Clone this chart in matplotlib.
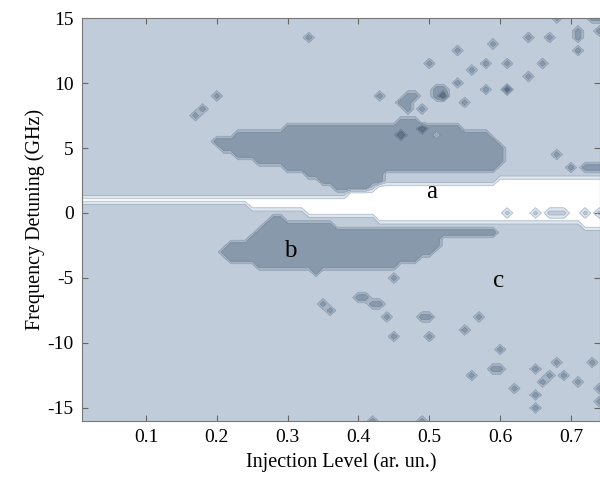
import numpy as np
import matplotlib
matplotlib.use("Agg")
import matplotlib.pyplot as plt
from matplotlib.colors import ListedColormap, BoundaryNorm

# grid of the map (injection level x detuning)
x_grid = np.round(np.arange(0.01, 0.755, 0.01), 2)
y_grid = np.arange(-16.0, 15.25, 0.5)

# locking band "a" (value 0): x from, x to, lowest row, highest row
lock_x0 = [0.01, 0.25, 0.33, 0.39, 0.43, 0.60, 0.72]
lock_x1 = [0.24, 0.32, 0.38, 0.42, 0.59, 0.71, 0.75]
lock_lo = [1.0, 0.5, 0.0, 0.0, -0.5, -0.5, -1.0]
lock_hi = [1.0, 1.0, 1.0, 1.5, 2.0, 2.5, 2.5]

# upper region "b" (value 2)
up_x0 = [0.20, 0.21, 0.23, 0.26, 0.30, 0.33, 0.35, 0.37, 0.42, 0.44, 0.46, 0.49, 0.55, 0.59, 0.60]
up_x1 = [0.20, 0.22, 0.25, 0.29, 0.32, 0.34, 0.36, 0.41, 0.43, 0.45, 0.48, 0.54, 0.58, 0.59, 0.60]
up_lo = [5.5, 5.0, 4.5, 4.0, 3.5, 3.0, 2.5, 2.0, 2.5, 3.5, 3.5, 3.5, 3.5, 3.5, 4.0]
up_hi = [5.5, 5.5, 6.0, 6.0, 6.5, 6.5, 6.5, 6.5, 6.5, 6.5, 7.0, 6.5, 6.0, 5.5, 5.0]

# lower region "b" (value 2)
low_x0 = [0.21, 0.22, 0.25, 0.26, 0.27, 0.28, 0.30, 0.34, 0.35, 0.37, 0.46, 0.49, 0.51, 0.52]
low_x1 = [0.21, 0.24, 0.25, 0.26, 0.27, 0.29, 0.33, 0.34, 0.36, 0.45, 0.48, 0.50, 0.51, 0.59]
low_lo = [-3.0, -3.5, -3.5, -4.0, -4.0, -4.0, -4.0, -4.5, -4.0, -4.0, -3.5, -3.0, -2.5, -1.5]
low_hi = [-3.0, -2.5, -2.0, -1.5, -1.0, -0.5, -1.0, -1.0, -1.0, -1.5, -1.5, -1.5, -1.5, -1.5]

# isolated cells
spot_x = [0.17, 0.18, 0.20, 0.33, 0.43, 0.46, 0.47, 0.47, 0.48, 0.47, 0.49,
          0.51, 0.51, 0.52, 0.52, 0.50, 0.54, 0.54, 0.55, 0.56, 0.58, 0.58,
          0.59, 0.61, 0.61, 0.64, 0.64, 0.66, 0.67, 0.68, 0.71, 0.71, 0.71,
          0.73, 0.74, 0.75, 0.74, 0.68, 0.70, 0.72, 0.73, 0.74, 0.75,
          0.46, 0.49, 0.51,
          0.61, 0.65, 0.67, 0.68, 0.69, 0.72, 0.74,
          0.35, 0.36, 0.40, 0.41, 0.42, 0.43, 0.44, 0.45, 0.45, 0.49, 0.50,
          0.50, 0.55, 0.56, 0.57, 0.59, 0.60, 0.60, 0.62, 0.65, 0.65, 0.65,
          0.66, 0.67, 0.68, 0.69, 0.71, 0.73, 0.74, 0.75, 0.74, 0.75, 0.42, 0.49]
spot_y = [7.5, 8.0, 9.0, 13.5, 9.0, 8.5, 8.5, 9.0, 9.0, 8.0, 8.0,
          9.5, 9.0, 9.0, 9.5, 11.5, 12.5, 10.0, 8.5, 11.0, 11.5, 9.5,
          13.0, 11.5, 9.5, 13.5, 10.5, 11.5, 13.5, 15.0, 14.0, 13.5, 12.5,
          15.0, 15.0, 15.0, 14.0, 4.5, 3.5, 3.5, 3.5, 3.5, 3.5,
          6.0, 6.5, 6.0,
          0.0, 0.0, 0.0, 0.0, 0.0, 0.0, 0.0,
          -7.0, -7.5, -6.5, -6.5, -7.0, -7.0, -8.0, -5.0, -9.5, -8.0, -8.0,
          -9.5, -9.0, -12.5, -8.0, -12.0, -12.0, -10.5, -13.5, -12.0, -14.0, -15.0,
          -13.0, -12.5, -11.5, -12.5, -13.0, -11.5, -13.5, -13.5, -14.5, -14.5, -16.0, -16.0]
spot_v = [2, 2, 2, 2, 2, 2, 2, 2, 2, 2, 2,
          2, 2, 3, 2, 2, 2, 2, 2, 2, 2, 2,
          2, 2, 3, 2, 2, 2, 2, 2, 2, 2, 2,
          2, 2, 2, 2, 2, 2, 2, 2, 2, 2,
          3, 3, 1,
          1, 1, 1, 1, 1, 1, 1,
          2, 2, 2, 2, 2, 2, 2, 2, 2, 2, 2,
          2, 2, 2, 2, 2, 2, 2, 2, 2, 2, 2,
          2, 2, 2, 2, 2, 2, 2, 2, 2, 2, 2, 2]


def fill(Z, x0, x1, lo, hi, val):
    for a, b, l, h in zip(x0, x1, lo, hi):
        cols = (x_grid >= a - 1e-6) & (x_grid <= b + 1e-6)
        rows = (y_grid >= l - 1e-6) & (y_grid <= h + 1e-6)
        Z[np.ix_(rows, cols)] = val


Z = np.ones((len(y_grid), len(x_grid)))
fill(Z, lock_x0, lock_x1, lock_lo, lock_hi, 0)
fill(Z, up_x0, up_x1, up_lo, up_hi, 2)
fill(Z, low_x0, low_x1, low_lo, low_hi, 2)
for sx, sy, sv in zip(spot_x, spot_y, spot_v):
    i = np.argmin(abs(y_grid - sy))
    j = np.argmin(abs(x_grid - sx))
    Z[i, j] = sv

levels = [-1, 0.2, 0.7, 1.2, 1.6, 2.12, 2.45, 4]
colors = ["#ffffff", "#dfe6ee", "#c0ccd9", "#a6b4c4", "#8899ac", "#7a8ca0", "#63748a"]
line_colors = ["#b4c1cf", "#a5b4c4", "#95a5b7", "#8091a5", "#6f8197", "#5a6b81"]
cmap = ListedColormap(colors)
norm = BoundaryNorm(levels, cmap.N)

plt.rcParams["font.family"] = ["Liberation Serif", "DejaVu Serif"]
plt.rcParams["axes.unicode_minus"] = False

fig = plt.figure(figsize=(6, 4.83), dpi=100)
ax = fig.add_axes([0.137, 0.1284, 0.863, 0.8343])

ax.contourf(x_grid, y_grid, Z, levels=levels, cmap=cmap, norm=norm)
ax.contour(x_grid, y_grid, Z, levels=levels[1:-1], colors=line_colors, linewidths=0.6)

ax.text(0.504, 1.6, "a", fontsize=18, ha="center", va="center")
ax.text(0.304, -2.9, "b", fontsize=18, ha="center", va="center")
ax.text(0.598, -5.2, "c", fontsize=18, ha="center", va="center")

ax.set_xlim(0.01, 0.741)
ax.set_ylim(-16, 15)
ax.set_xticks([0.1, 0.2, 0.3, 0.4, 0.5, 0.6, 0.7])
ax.set_xticklabels(["0.1", "0.2", "0.3", "0.4", "0.5", "0.6", "0.7"])
ax.set_yticks([-15, -10, -5, 0, 5, 10, 15])
ax.tick_params(direction="in", length=4, color="#666666", labelsize=14,
               top=True, right=True, pad=6)
for s in ax.spines.values():
    s.set_color("#777777")
    s.set_linewidth(0.8)

ax.set_xlabel("Injection Level (ar. un.)", fontsize=14.5, labelpad=4)
ax.set_ylabel("Frequency Detuning (GHz)", fontsize=14.5, labelpad=2)

fig.savefig("out.png", dpi=100)
